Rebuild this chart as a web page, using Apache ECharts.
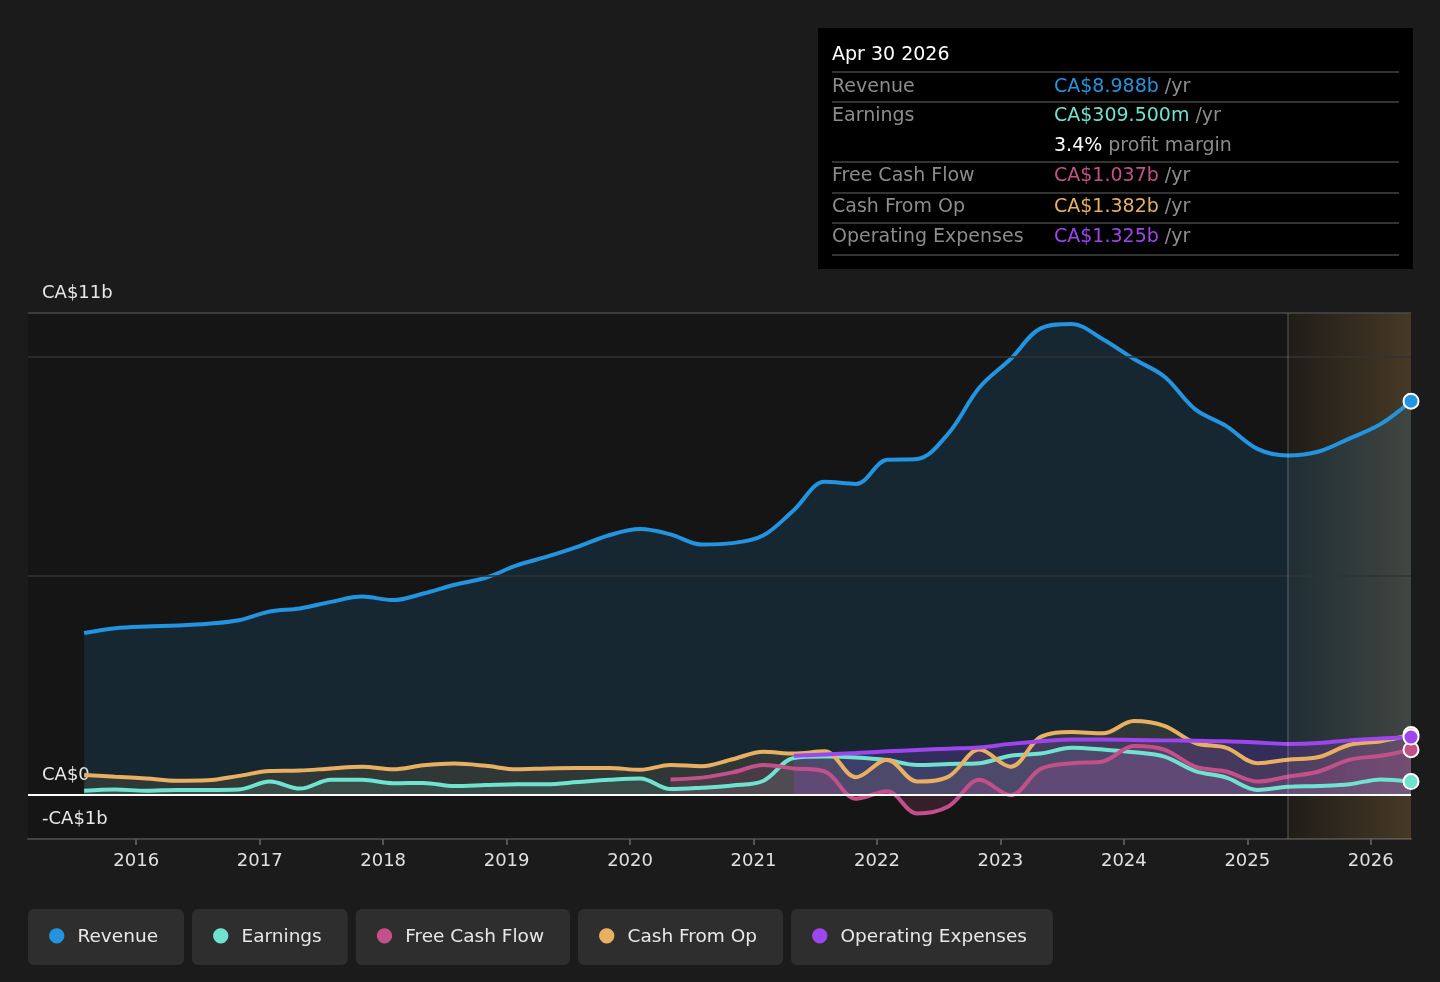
<!DOCTYPE html>
<html>
<head>
<meta charset="utf-8">
<style>
    html, body { margin: 0; padding: 0; background: #1b1b1b; }
    #chart { width: 1440px; height: 982px; }
</style>
</head>
<body>
<div id="chart"></div>
<script src="https://cdn.jsdelivr.net/npm/echarts@6/dist/echarts.min.js"></script>
<script>
// quarterly report dates (trailing twelve months)
var dates = [
    '2015-07-31', '2015-10-31', '2016-01-31', '2016-04-30', '2016-07-31', '2016-10-31',
    '2017-01-31', '2017-04-30', '2017-07-31', '2017-10-31', '2018-01-31', '2018-04-30',
    '2018-07-31', '2018-10-31', '2019-01-31', '2019-04-30', '2019-07-31', '2019-10-31',
    '2020-01-31', '2020-04-30', '2020-07-31', '2020-10-31', '2021-01-31', '2021-04-30',
    '2021-07-31', '2021-10-31', '2022-01-31', '2022-04-30', '2022-07-31', '2022-10-31',
    '2023-01-31', '2023-04-30', '2023-07-31', '2023-10-31', '2024-01-31', '2024-04-30',
    '2024-07-31', '2024-10-31', '2025-01-31', '2025-04-30', '2025-07-31', '2025-10-31',
    '2026-01-31', '2026-04-30'
];

// values in CA$ billions
var revenue = [3.70, 3.81, 3.85, 3.87, 3.91, 3.99, 4.19, 4.26, 4.41, 4.53, 4.45, 4.60,
    4.80, 4.96, 5.24, 5.44, 5.67, 5.93, 6.07, 5.95, 5.72, 5.75, 5.93, 6.50,
    7.15, 7.10, 7.65, 7.67, 8.25, 9.30, 9.95, 10.65, 10.75, 10.40, 9.95, 9.55,
    8.80, 8.42, 7.90, 7.75, 7.84, 8.14, 8.47, 8.988];
var earnings = [0.10, 0.13, 0.10, 0.12, 0.12, 0.13, 0.31, 0.15, 0.35, 0.35, 0.27, 0.28,
    0.21, 0.23, 0.25, 0.25, 0.30, 0.35, 0.38, 0.14, 0.17, 0.22, 0.33, 0.85,
    0.88, 0.86, 0.80, 0.69, 0.71, 0.73, 0.90, 0.95, 1.08, 1.04, 0.98, 0.88,
    0.55, 0.40, 0.12, 0.19, 0.21, 0.25, 0.36, 0.3095];
var cashFromOp = [0.46, 0.42, 0.38, 0.33, 0.34, 0.44, 0.55, 0.56, 0.61, 0.65, 0.59, 0.68,
    0.72, 0.67, 0.59, 0.61, 0.62, 0.62, 0.58, 0.69, 0.66, 0.82, 0.99, 0.95,
    1.00, 0.41, 0.81, 0.31, 0.42, 1.04, 0.65, 1.33, 1.44, 1.41, 1.69, 1.58,
    1.19, 1.08, 0.73, 0.81, 0.87, 1.15, 1.23, 1.382];
// free cash flow starts at dates[19]
var fcfStart = 19;
var freeCashFlow = [0.36, 0.40, 0.52, 0.69, 0.61, 0.54, -0.08, 0.09, -0.42, -0.26, 0.35, 0.00,
    0.60, 0.73, 0.77, 1.12, 1.04, 0.65, 0.54, 0.31, 0.42, 0.54, 0.81, 0.90, 1.037];
// operating expenses starts at dates[23]
var opexStart = 23;
var opex = [0.90, 0.93, 0.96, 1.00, 1.03, 1.06, 1.09, 1.17, 1.23, 1.27, 1.27, 1.26,
    1.25, 1.24, 1.23, 1.20, 1.17, 1.19, 1.25, 1.29, 1.325];

var yTicks = [-1, 0, 11];
var yTickLabels = ['-CA$1b', 'CA$0', 'CA$11b'];
var yGridLines = [5, 10, 11];
var xTicks = [2016, 2017, 2018, 2019, 2020, 2021, 2022, 2023, 2024, 2025, 2026];
var xStart = '2015-02-15';
var forecastStart = '2025-04-30';

var seriesNames = ['Revenue', 'Earnings', 'Free Cash Flow', 'Cash From Op', 'Operating Expenses'];
var colors = ['#2394df', '#6fe3cf', '#c4508a', '#e9b061', '#9d46ee'];

var FONT = '"DejaVu Sans", sans-serif';

// date string -> fractional year for the value axis
function toYear(d) {
    var t = new Date(d + 'T00:00:00Z');
    var y = t.getUTCFullYear();
    var a = Date.UTC(y, 0, 1), b = Date.UTC(y + 1, 0, 1);
    return y + (t - a) / (b - a);
}

function pairs(vals, start) {
    return vals.map(function (v, i) {
        return [toYear(dates[i + start]), v];
    });
}

function makeLine(name, vals, start, color, areaOpacity) {
    var data = pairs(vals, start);
    var last = data.length - 1;
    return {
        name: name,
        type: 'line',
        data: data,
        smooth: 0.35,
        symbol: 'circle',
        showSymbol: true,
        symbolSize: function (v, p) { return p.dataIndex === last ? 15 : 0; },
        itemStyle: { color: color, borderColor: '#ffffff', borderWidth: 2 },
        lineStyle: { color: color, width: 4 },
        areaStyle: { color: color, opacity: areaOpacity, origin: 0 },
        emphasis: { disabled: true },
        z: 3
    };
}

var myChart = echarts.init(document.getElementById('chart'), null, { renderer: 'canvas' });

var legendRich = { t: { color: '#e8e8e8', fontSize: 18.5, fontFamily: FONT } };
colors.forEach(function (c, i) {
    legendRich['d' + i] = { color: c, fontSize: 20, fontFamily: FONT, padding: [0, 12, 2, 0] };
});

// tooltip-like info panel
var panelX = 832, valX = 1054;
var panelRows = [
    { label: 'Revenue', y: 87, parts: [['CA$8.988b', colors[0]], [' /yr', '#8c8c8c']] },
    { label: 'Earnings', y: 116, parts: [['CA$309.500m', colors[1]], [' /yr', '#8c8c8c']] },
    { label: '', y: 146, parts: [['3.4%', '#ffffff'], [' profit margin', '#8c8c8c']] },
    { label: 'Free Cash Flow', y: 176, parts: [['CA$1.037b', colors[2]], [' /yr', '#8c8c8c']] },
    { label: 'Cash From Op', y: 207, parts: [['CA$1.382b', colors[3]], [' /yr', '#8c8c8c']] },
    { label: 'Operating Expenses', y: 237, parts: [['CA$1.325b', colors[4]], [' /yr', '#8c8c8c']] }
];
var panelLines = [72, 102, 162, 193, 223, 255];

var graphics = [{
    type: 'rect',
    shape: { x: 818, y: 28, width: 595, height: 241 },
    style: { fill: '#000000' },
    z: 100
}, {
    type: 'text',
    x: panelX, y: 55,
    style: { text: 'Apr 30 2026', fill: '#ffffff', font: '19px ' + FONT, verticalAlign: 'middle' },
    z: 101
}];
panelLines.forEach(function (ly) {
    graphics.push({
        type: 'line',
        shape: { x1: panelX, y1: ly, x2: 1399, y2: ly },
        style: { stroke: '#444444', lineWidth: 1.5 },
        z: 101
    });
});
panelRows.forEach(function (r) {
    if (r.label) {
        graphics.push({
            type: 'text', x: panelX, y: r.y,
            style: { text: r.label, fill: '#8c8c8c', font: '19px ' + FONT, verticalAlign: 'middle' },
            z: 101
        });
    }
    var rich = {};
    var txt = r.parts.map(function (p, i) {
        rich['p' + i] = { fill: p[1], fontSize: 19, fontFamily: FONT };
        return '{p' + i + '|' + p[0] + '}';
    }).join('');
    graphics.push({
        type: 'text', x: valX, y: r.y,
        style: { text: txt, rich: rich, verticalAlign: 'middle' },
        z: 101
    });
});

var series = [{
    // horizontal grid lines
    type: 'line',
    data: [],
    silent: true,
    z: 1,
    markLine: {
        silent: true,
        symbol: 'none',
        label: { show: false },
        data: yGridLines.map(function (v) {
            return { yAxis: v, lineStyle: { color: v === 11 ? '#4a4a4a' : '#333333', width: 1.5, type: 'solid' } };
        })
    }
},
    makeLine(seriesNames[0], revenue, 0, colors[0], 0.15),
    makeLine(seriesNames[1], earnings, 0, colors[1], 0.12),
    makeLine(seriesNames[3], cashFromOp, 0, colors[3], 0.12),
    makeLine(seriesNames[2], freeCashFlow, fcfStart, colors[2], 0.18),
    makeLine(seriesNames[4], opex, opexStart, colors[4], 0.22),
{
    // forecast region overlay and zero line
    type: 'line',
    data: [],
    silent: true,
    z: 4,
    markArea: {
        silent: true,
        itemStyle: {
            color: new echarts.graphic.LinearGradient(0, 0, 1, 0, [
                { offset: 0, color: 'rgba(160,120,60,0.08)' },
                { offset: 1, color: 'rgba(175,135,75,0.32)' }
            ])
        },
        data: [[{ xAxis: toYear(forecastStart) }, { xAxis: toYear(dates[dates.length - 1]) }]]
    },
    markLine: {
        silent: true,
        symbol: 'none',
        label: { show: false },
        data: [
            { yAxis: 0, lineStyle: { color: '#ffffff', width: 2, type: 'solid' } },
            { xAxis: toYear(forecastStart), lineStyle: { color: 'rgba(255,255,255,0.18)', width: 1.5, type: 'solid' } }
        ]
    }
}];

myChart.setOption({
    backgroundColor: '#1b1b1b',
    animation: false,
    textStyle: { fontFamily: FONT },
    grid: {
        left: 28, right: 29, top: 313, bottom: 143,
        show: true, backgroundColor: '#151515', borderWidth: 0,
        containLabel: false
    },
    xAxis: {
        type: 'value',
        min: toYear(xStart),
        max: toYear(dates[dates.length - 1]),
        splitLine: { show: false },
        axisLine: { onZero: false, lineStyle: { color: '#444444', width: 2 } },
        axisTick: {
            show: true, length: 6, lineStyle: { color: '#555555', width: 2 },
            customValues: xTicks
        },
        axisLabel: {
            color: '#e0e0e0', fontSize: 18, fontFamily: FONT, margin: 13,
            customValues: xTicks,
            formatter: function (v) { return String(Math.round(v)); }
        }
    },
    yAxis: {
        type: 'value',
        min: -1,
        max: 11,
        splitLine: { show: false },
        axisLine: { show: false },
        axisTick: { show: false },
        axisLabel: {
            inside: true,
            margin: 14,
            customValues: yTicks,
            color: '#e8e8e8', fontSize: 18, fontFamily: FONT,
            verticalAlign: 'bottom',
            padding: [0, 0, 11, 0],
            formatter: function (v) { return yTickLabels[yTicks.indexOf(v)]; }
        }
    },
    legend: {
        left: 18, top: 904,
        itemGap: 3,
        icon: 'none',
        itemWidth: 0,
        selectedMode: false,
        data: seriesNames,
        formatter: function (name) {
            var i = seriesNames.indexOf(name);
            return '{d' + i + '|●}{t|' + name + '}';
        },
        textStyle: {
            color: '#e8e8e8', fontSize: 18.5, fontFamily: FONT,
            backgroundColor: '#2e2e2e', borderRadius: 6,
            padding: [17, 26, 17, 20],
            rich: legendRich
        }
    },
    graphic: graphics,
    series: series
});
</script>
</body>
</html>
